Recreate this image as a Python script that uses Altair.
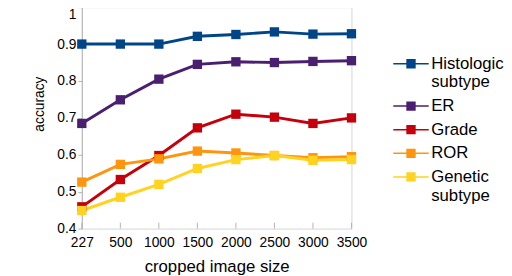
import altair as alt
import pandas as pd

sizes = ["227", "500", "1000", "1500", "2000", "2500", "3000", "3500"]
series = ["Histologic subtype", "ER", "Grade", "ROR", "Genetic subtype"]
histologic = [0.900, 0.900, 0.900, 0.921, 0.926, 0.933, 0.927, 0.928]
er = [0.685, 0.749, 0.805, 0.845, 0.852, 0.850, 0.853, 0.855]
grade = [0.459, 0.533, 0.598, 0.673, 0.710, 0.702, 0.685, 0.700]
ror = [0.526, 0.574, 0.589, 0.610, 0.605, 0.598, 0.592, 0.595]
genetic = [0.449, 0.485, 0.520, 0.563, 0.587, 0.598, 0.585, 0.587]
colors = ["#004586", "#4b1f6f", "#c5000b", "#ff950e", "#ffd320"]
y_ticks = [0.4, 0.5, 0.6, 0.7, 0.8, 0.9, 1.0]

values = [histologic, er, grade, ror, genetic]
rows = []
for s, vals in zip(series, values):
    for i, (sz, v) in enumerate(zip(sizes, vals)):
        rows.append({"size": sz, "series": s, "accuracy": v, "order": i})
df = pd.DataFrame(rows)
ticks_df = pd.DataFrame({"size": sizes})

FONT = "Liberation Sans"


def x_scale():
    return alt.Scale(type="point", domain=sizes, padding=0)


x_enc = alt.X("size:N", sort=sizes, scale=x_scale(),
              axis=alt.Axis(title="cropped image size", labelAngle=0, labelAlign="center",
                            tickSize=0, labelPadding=14, titlePadding=10, domain=False,
                            labelOverlap=False, titleFontSize=17))
y_enc = alt.Y("accuracy:Q", scale=alt.Scale(domain=[0.4, 1.0], nice=False, zero=False),
              axis=alt.Axis(title="accuracy", values=y_ticks, tickCount=20, format=".1~f",
                            tickSize=4, labelPadding=2, grid=False, labelOverlap=False,
                            labelOffset={"condition": {"test": "datum.value >= 0.99", "value": 8},
                                         "value": 0},
                            titleX=-43, titleY=98, titleFontSize=14,
                            titleAngle=270, titleBaseline="middle", titleAlign="center"))
label_expr = ("datum.label == 'Histologic subtype' ? ['Histologic', 'subtype'] : "
              "datum.label == 'Genetic subtype' ? ['Genetic', 'subtype'] : datum.label")
color_enc = alt.Color("series:N", sort=series,
                      scale=alt.Scale(domain=series, range=colors),
                      legend=alt.Legend(title=None, orient="none", legendX=326, legendY=49,
                                        labelExpr=label_expr,
                                        symbolType="M-3.6,-0.15H3.6V0.15H-3.6Z M-0.95,-0.95H0.95V0.95H-0.95Z",
                                        symbolSize=100, symbolStrokeWidth=0,
                                        labelFont=FONT, labelFontSize=17, labelColor="#000000",
                                        labelOffset=12, rowPadding=6, labelLimit=200))

base = alt.Chart(df).encode(x=x_enc, y=y_enc, color=color_enc, order="order:Q")
lines = base.mark_line(strokeWidth=3)
points = base.mark_point(shape="square", size=90, filled=True, opacity=1)
tick_rules = alt.Chart(ticks_df).mark_rule(color="#b3b3b3", strokeWidth=1).encode(
    x=alt.X("size:N", sort=sizes, scale=x_scale()), y=alt.datum(0.4), y2=alt.datum(0.416))

chart = alt.layer(tick_rules, lines, points).properties(
    width=274, height=225,
    padding={"left": 75, "top": -3, "right": 155, "bottom": 46},
    autosize=alt.AutoSizeParams(type="none"),
).configure_view(stroke="#d4d4d4", strokeWidth=1).configure_axis(
    labelFont=FONT, labelFontSize=14, labelColor="#000000",
    titleFont=FONT, titleFontWeight="normal", titleColor="#000000",
    domainColor="#b3b3b3", tickColor="#b3b3b3",
)

chart.save("out.html", embed_options={"renderer": "svg", "actions": False})
